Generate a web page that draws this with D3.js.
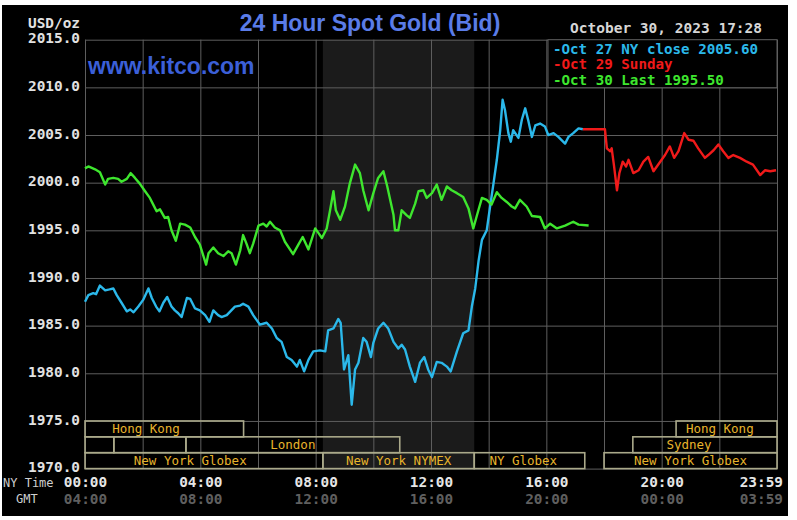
<!DOCTYPE html>
<html><head><meta charset="utf-8">
<script src="https://cdn.jsdelivr.net/npm/d3@7"></script>
<style>html,body{margin:0;padding:0;background:#fff;}svg{display:block}</style>
</head><body><svg id="c" width="797" height="520"></svg>
<script>
// ---- data (minutes after NY midnight, USD/oz) ----
const oct27 = [[0,1987.5],[7,1988.2],[17,1988.4],[23,1988.3],[31,1989.2],[42,1988.7],[51,1988.8],[59,1988.9],[66,1988.2],[76,1987.4],[87,1986.5],[94,1986.7],[101,1986.4],[111,1987.0],[121,1987.7],[132,1988.9],[139,1987.9],[148,1987.0],[155,1986.5],[163,1987.4],[171,1988.0],[180,1987.0],[187,1986.6],[194,1986.3],[201,1985.9],[212,1987.9],[219,1987.8],[229,1986.8],[239,1986.6],[250,1986.1],[259,1985.4],[267,1986.6],[277,1986.1],[284,1985.9],[295,1986.1],[312,1987.0],[323,1987.1],[329,1987.3],[340,1987.0],[350,1986.1],[364,1985.1],[378,1985.3],[389,1984.7],[399,1983.7],[409,1983.3],[420,1981.7],[430,1981.4],[441,1980.7],[447,1981.4],[456,1980.2],[465,1981.4],[475,1982.3],[489,1982.4],[500,1982.3],[506,1984.5],[517,1984.7],[527,1985.7],[532,1985.3],[539,1980.4],[548,1981.9],[555,1976.7],[562,1980.4],[569,1981.1],[579,1983.7],[586,1983.3],[595,1981.7],[600,1983.2],[610,1984.7],[621,1985.3],[631,1984.7],[642,1983.3],[652,1982.6],[659,1983.0],[666,1982.5],[676,1980.7],[687,1979.1],[697,1981.1],[706,1981.7],[714,1980.4],[722,1979.6],[732,1981.2],[742,1981.1],[753,1980.7],[761,1980.2],[774,1982.3],[787,1984.2],[798,1984.5],[805,1987.0],[812,1988.9],[819,1991.8],[826,1994.0],[836,1995.0],[843,1997.5],[850,1999.9],[857,2002.4],[864,2005.5],[869,2008.7],[874,2007.6],[881,2005.2],[886,2004.3],[891,2005.5],[902,2004.7],[909,2006.6],[916,2007.8],[923,2006.4],[930,2004.8],[937,2006.0],[947,2006.2],[957,2005.9],[964,2005.0],[975,2005.2],[985,2004.8],[999,2004.1],[1006,2004.8],[1016,2005.2],[1027,2005.7],[1036,2005.6]];
const oct29 = [[1036,2005.6],[1082,2005.6],[1086,2003.6],[1093,2003.3],[1096,2003.6],[1101,2001.7],[1107,1999.2],[1112,2001.0],[1119,2002.2],[1126,2001.7],[1131,2002.4],[1141,2001.0],[1152,2001.3],[1162,2002.2],[1172,2002.7],[1183,2001.2],[1197,2002.2],[1207,2002.9],[1217,2003.8],[1226,2002.6],[1235,2003.3],[1247,2005.2],[1256,2004.5],[1266,2004.4],[1276,2003.6],[1290,2002.6],[1297,2002.9],[1308,2003.4],[1318,2004.0],[1328,2003.3],[1339,2002.6],[1349,2002.9],[1363,2002.6],[1377,2002.2],[1390,2001.9],[1405,2000.8],[1415,2001.3],[1426,2001.2],[1438,2001.3]];
const oct30 = [[0,2001.5],[7,2001.7],[21,2001.4],[31,2001.1],[42,1999.8],[48,2000.4],[59,2000.5],[69,2000.4],[76,2000.1],[87,2000.4],[95,2001.0],[104,2000.5],[114,1999.9],[125,1999.1],[135,1998.4],[142,1997.7],[149,1997.0],[156,1997.2],[166,1996.3],[173,1996.4],[180,1995.0],[189,1993.9],[198,1995.7],[208,1995.6],[219,1995.3],[229,1994.3],[239,1993.5],[252,1991.4],[257,1992.6],[267,1993.2],[277,1992.6],[288,1992.3],[298,1992.8],[305,1992.6],[314,1991.4],[323,1992.9],[329,1994.5],[336,1993.6],[343,1992.6],[350,1993.6],[361,1995.5],[371,1995.7],[378,1995.4],[385,1995.9],[395,1995.3],[406,1995.0],[416,1993.8],[433,1992.5],[444,1993.5],[453,1994.3],[465,1993.0],[479,1995.2],[486,1994.7],[493,1994.2],[503,1995.2],[510,1997.1],[517,1999.1],[522,1997.1],[531,1996.1],[541,1997.5],[551,1999.9],[562,2001.9],[572,2001.0],[579,1999.2],[590,1997.1],[600,1998.9],[610,2000.5],[621,2001.2],[629,1999.6],[642,1996.6],[645,1995.0],[652,1995.0],[659,1997.1],[669,1996.6],[676,1996.3],[687,1997.8],[694,1999.1],[704,1999.2],[711,1998.4],[722,1998.9],[732,1999.8],[742,1998.2],[753,1999.6],[763,1999.2],[774,1998.9],[787,1998.5],[798,1997.3],[808,1995.2],[818,1997.0],[826,1998.4],[836,1998.2],[846,1997.7],[857,1999.0],[867,1998.4],[877,1998.0],[888,1997.5],[895,1997.3],[905,1998.2],[919,1997.5],[930,1996.5],[947,1996.4],[957,1995.2],[968,1995.7],[982,1995.2],[999,1995.5],[1016,1995.9],[1027,1995.6],[1048,1995.5]];
const yTicks = [1970,1975,1980,1985,1990,1995,2000,2005,2010,2015];
const gridMinutes = [0,120,240,360,480,600,720,840,960,1080,1200,1320,1440];
const labelMinutes = [0,240,480,720,960,1200,1439];
const nyLabels = ["00:00","04:00","08:00","12:00","16:00","20:00","23:59"];
const gmtLabels = ["04:00","08:00","12:00","16:00","20:00","00:00","03:59"];
const nymexSpan = [495,810];
const sessionNames = ["Hong Kong","","","London","New York Globex","New York NYMEX","NY Globex","New York Globex","Sydney","Hong Kong"];
const sessionRows  = [0,1,1,1,2,2,2,2,1,0];
const sessionStart = [0,0,60,210,0,495,810,1080,1140,1230];
const sessionEnd   = [330,60,210,655,495,810,1040,1440,1440,1440];
const sessionLabelAt = [127,null,null,null,219,null,912,null,1257,1321];
const legendLabels = ["-Oct 27 NY close 2005.60","-Oct 29 Sunday","-Oct 30 Last 1995.50"];
const legendColors = ["#2bb8ea","#f01a1a","#3ee62e"];

// ---- drawing ----
const svg = d3.select("#c");
const x = d3.scaleLinear().domain([0,1440]).range([85,777]);
const y = d3.scaleLinear().domain([1970,2015]).range([468.6,39.7]);
const mono = "'DejaVu Sans Mono', monospace";

svg.append("rect").attr("width",797).attr("height",520).attr("fill","#fff");
svg.append("rect").attr("x",2).attr("y",5).attr("width",786).attr("height",511).attr("fill","#000");

// shaded NYMEX band
svg.append("rect").attr("x",x(nymexSpan[0])).attr("y",y(2015))
  .attr("width",x(nymexSpan[1])-x(nymexSpan[0])).attr("height",y(1970)-y(2015)).attr("fill","#1b1b1b");

// grid
const gridColor = "#5e5e5e";
const gx = svg.append("g").attr("transform",`translate(0,${y(1970)})`)
  .call(d3.axisBottom(x).tickValues(gridMinutes).tickSize(-(y(1970)-y(2015))).tickFormat(""));
const gy = svg.append("g").attr("transform",`translate(${x(0)},0)`)
  .call(d3.axisLeft(y).tickValues(yTicks).tickSize(-(x(1440)-x(0))).tickFormat(""));
[gx,gy].forEach(g=>{g.select(".domain").remove(); g.selectAll("line").attr("stroke",gridColor).attr("stroke-width",1);});

// sessions
const rowH = (y(1970)-y(1975))/3;
const sess = svg.append("g");
sessionNames.forEach((nm,i)=>{
  const y0 = y(1975)+sessionRows[i]*rowH;
  sess.append("rect").attr("x",x(sessionStart[i])).attr("y",y0)
    .attr("width",x(sessionEnd[i])-x(sessionStart[i])).attr("height",rowH)
    .attr("fill","none").attr("stroke","#aaa98a").attr("stroke-width",1.6);
  if(nm){
    const cx = sessionLabelAt[i]!=null ? x(sessionLabelAt[i]) : (x(sessionStart[i])+x(sessionEnd[i]))/2;
    sess.append("text").attr("x",cx).attr("y",y0+rowH-4).attr("text-anchor","middle")
      .attr("font-family",mono).attr("font-size",12.5).attr("fill","#e8b42c").text(nm);
  }
});

// lines
const line = d3.line().x(d=>x(d[0])).y(d=>y(d[1]));
[[oct27,legendColors[0]],[oct30,legendColors[2]],[oct29,legendColors[1]]].forEach(([data,col])=>{
  svg.append("path").datum(data).attr("d",line).attr("fill","none").attr("stroke",col)
    .attr("stroke-width",2.4).attr("stroke-linejoin","round");
});

// legend box
svg.append("rect").attr("x",548).attr("y",y(2015)).attr("width",x(1440)-548).attr("height",48)
  .attr("fill","#000").attr("stroke",gridColor).attr("stroke-width",1);
legendLabels.forEach((t,i)=>{
  svg.append("text").attr("x",553).attr("y",54+i*15.3).attr("font-family",mono).attr("font-weight","bold")
    .attr("font-size",14.2).attr("fill",legendColors[i]).text(t);
});

// y axis labels
const ay = svg.append("g").attr("transform",`translate(${x(0)},0)`)
  .call(d3.axisLeft(y).tickValues(yTicks).tickSize(0).tickPadding(5).tickFormat(d3.format(".1f")));
ay.select(".domain").remove();
ay.selectAll("text").attr("font-family",mono).attr("font-weight","bold").attr("font-size",14.4)
  .attr("fill","#e2e2e2").attr("dy","0.22em");

// x axis labels
const ax = svg.append("g").attr("transform",`translate(0,${y(1970)})`)
  .call(d3.axisBottom(x).tickValues(labelMinutes).tickSize(0).tickPadding(8).tickFormat((d,i)=>nyLabels[i]));
const ax2 = svg.append("g").attr("transform",`translate(0,${y(1970)})`)
  .call(d3.axisBottom(x).tickValues(labelMinutes).tickSize(0).tickPadding(25).tickFormat((d,i)=>gmtLabels[i]));
[ax,ax2].forEach((g,k)=>{
  g.select(".domain").remove();
  g.selectAll("text").attr("font-family",mono).attr("font-weight","bold").attr("font-size",14.4)
    .attr("fill",k===0?"#e6e6e6":"#5f5f5f");
  g.selectAll("text").filter((d,i)=>i===labelMinutes.length-1).attr("text-anchor","end").attr("x",6);
});

// other texts
svg.append("text").attr("x",80).attr("y",28).attr("text-anchor","end").attr("font-family",mono)
  .attr("font-weight","bold").attr("font-size",14.4).attr("fill","#e2e2e2").text("USD/oz");
svg.append("text").attr("x",3).attr("y",487).attr("font-family",mono).attr("font-size",12)
  .attr("fill","#cfcfcf").text("NY Time");
svg.append("text").attr("x",16).attr("y",503).attr("font-family",mono).attr("font-size",12)
  .attr("fill","#cfcfcf").text("GMT");
svg.append("text").attr("x",370).attr("y",31).attr("text-anchor","middle")
  .attr("font-family","'Liberation Sans', Arial, sans-serif").attr("font-weight","bold").attr("font-size",23)
  .attr("fill","#5a7ce8").text("24 Hour Spot Gold (Bid)");
svg.append("text").attr("x",88).attr("y",74)
  .attr("font-family","'Liberation Sans', Arial, sans-serif").attr("font-weight","bold").attr("font-size",23)
  .attr("fill","#3b5fd8").text("www.kitco.com");
svg.append("text").attr("x",570).attr("y",33).attr("font-family",mono).attr("font-weight","bold")
  .attr("font-size",14.5).attr("fill","#d6d6d6").text("October 30, 2023 17:28");
</script></body></html>
